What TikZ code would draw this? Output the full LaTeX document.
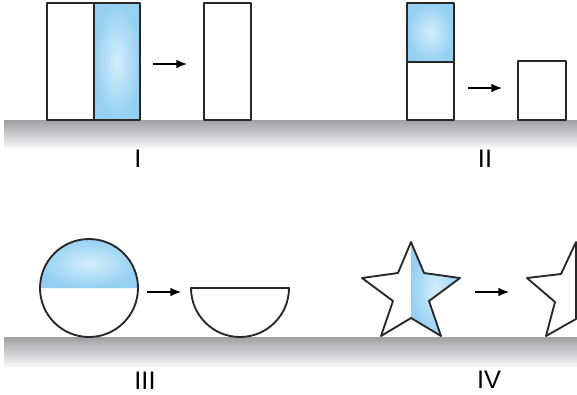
\documentclass[tikz,border=0pt]{standalone}
\usepackage{fontspec}
\setsansfont{Liberation Sans}
\usetikzlibrary{arrows.meta}

\definecolor{edgegray}{RGB}{40,40,40}
\definecolor{waterblue}{RGB}{148,208,242}
\definecolor{waterglow}{RGB}{212,238,251}
\definecolor{floortop}{RGB}{160,160,162}
\definecolor{floormid}{RGB}{222,222,224}
\definecolor{floorbot}{RGB}{246,246,248}

\tikzset{every picture/.style={line width=0.75pt}}
\tikzset{
  outline/.style={draw=edgegray, line width=1.4pt, line join=round},
  water/.style={inner color=waterglow, outer color=waterblue},
  floorband/.style={top color=floortop, middle color=floormid, bottom color=floorbot},
  flow/.style={-{Latex[length=8pt,width=6.5pt]}, line width=1pt, black},
  label text/.style={font=\sffamily\fontsize{19}{22}\selectfont, inner sep=0.75pt}
}

\begin{document}
\begin{tikzpicture}[x=0.75pt,y=0.75pt,yscale=-1,xscale=1]
\useasboundingbox (0,0) rectangle (577,394);

%Shape: Floor, top row
\shade [floorband] (4,120) rectangle (577,147) ;
%Shape: Floor, bottom row
\shade [floorband] (4,337) rectangle (577,366) ;

%Shape: Rectangle, panel I
\draw [outline, fill=white] (47,3) rectangle (94,120) ;
\shade [water] (94,3) rectangle (140,120) ;
\draw [outline] (94,3) rectangle (140,120) ;
\draw [outline, fill=white] (204,3) rectangle (251,120) ;

%Shape: Rectangle, panel II
\shade [water] (407,3) rectangle (454,62) ;
\draw [outline] (407,3) rectangle (454,62) ;
\draw [outline, fill=white] (407,62) rectangle (454,120) ;
\draw [outline, fill=white] (518,61) rectangle (566,120) ;

%Shape: Circle, panel III
\fill [white] (89,288) circle (49) ;
\shade [water] (40,288) arc (180:360:49) -- cycle ;
\draw [outline] (89,288) circle (49) ;
%Shape: Half circle
\draw [outline, fill=white] (191,288) arc (180:0:49) -- cycle ;

%Shape: Star, panel IV
\fill [white] (411,242) -- (424,273) -- (460,278) -- (429,301) -- (441,336) -- (411,318) -- (381,336) -- (393,301) -- (362,278) -- (398,273) -- cycle ;
\shade [water] (411,242) -- (424,273) -- (460,278) -- (429,301) -- (441,336) -- (411,318) -- cycle ;
\draw [outline] (411,242) -- (424,273) -- (460,278) -- (429,301) -- (441,336) -- (411,318) -- (381,336) -- (393,301) -- (362,278) -- (398,273) -- cycle ;
%Shape: Half star
\draw [outline, fill=white] (576,242) -- (561,274) -- (527,278) -- (555,302) -- (546,336) -- (576,319) -- cycle ;

%Straight Lines
\coordinate (fromI) at (153,64) ;
\coordinate (toI) at (187,64) ;
\draw [flow] (fromI) -- (toI) ;
\coordinate (fromII) at (468,88) ;
\coordinate (toII) at (502,88) ;
\draw [flow] (fromII) -- (toII) ;
\coordinate (fromIII) at (147,292) ;
\coordinate (toIII) at (181,292) ;
\draw [flow] (fromIII) -- (toIII) ;
\coordinate (fromIV) at (475,292) ;
\coordinate (toIV) at (509,292) ;
\draw [flow] (fromIV) -- (toIV) ;

% Text Node
\draw (138,159) node [label text] (labI) {I};
% Text Node
\draw (485,159) node [label text] (labII) {II};
% Text Node
\draw (145,381) node [label text] (labIII) {III};
% Text Node
\draw (489,380) node [label text] (labIV) {IV};

\end{tikzpicture}
\end{document}
